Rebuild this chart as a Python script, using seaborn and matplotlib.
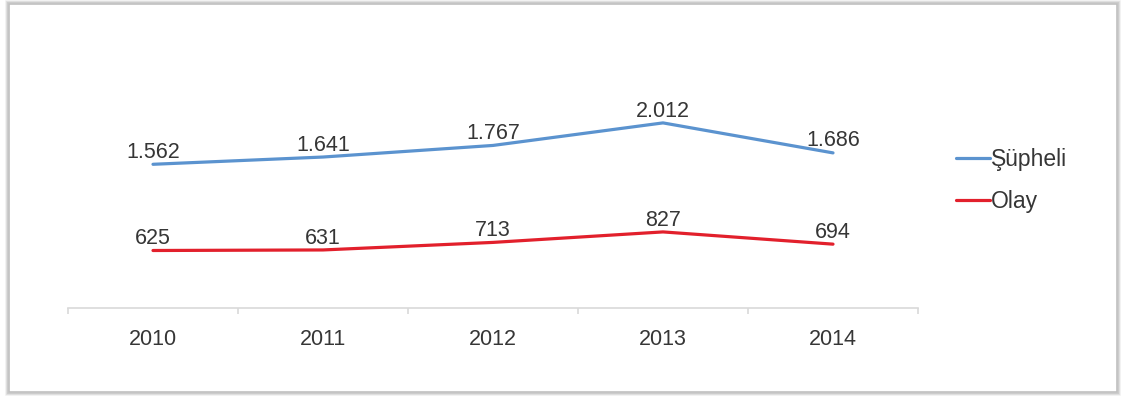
import matplotlib
matplotlib.use("Agg")
import matplotlib.pyplot as plt
from matplotlib.patches import Rectangle
from matplotlib.lines import Line2D
import seaborn as sns
import pandas as pd

# Yearly counts
years = ["2010", "2011", "2012", "2013", "2014"]
supheli = [1562, 1641, 1767, 2012, 1686]
olay = [625, 631, 713, 827, 694]
series_names = ["Şüpheli", "Olay"]
series_colors = ["#5b93cf", "#e2202c"]

df = pd.DataFrame({
    "Yıl": years * 2,
    "Sayı": supheli + olay,
    "Seri": [series_names[0]] * len(years) + [series_names[1]] * len(years),
})

sns.set_theme(style="white")
plt.rcParams["font.family"] = ["Liberation Sans", "DejaVu Sans"]

W, H = 1124, 398
fig = plt.figure(figsize=(W / 100, H / 100), dpi=100)
fig.patch.set_facecolor("white")

# Soft framed border around the chart area
x0, y0, x1, y1 = 9, 4, 1117, 392
for i, a in enumerate([0.10, 0.18, 0.30]):
    pad = 3 - i
    fig.patches.append(Rectangle(((x0 - pad) / W, 1 - (y1 + pad) / H),
                                 (x1 - x0 + 2 * pad) / W, (y1 - y0 + 2 * pad) / H,
                                 transform=fig.transFigure, facecolor="none",
                                 edgecolor=(0.45, 0.45, 0.45, a), lw=1.2,
                                 zorder=-2))
fig.patches.append(Rectangle((x0 / W, 1 - y1 / H), (x1 - x0) / W, (y1 - y0) / H,
                             transform=fig.transFigure, facecolor="white",
                             edgecolor="#c0c0c0", lw=1.2, zorder=-1))

ax_left, ax_right, ax_bottom, ax_top = 68, 918, 308, 78
ax = fig.add_axes([ax_left / W, 1 - ax_bottom / H,
                   (ax_right - ax_left) / W, (ax_bottom - ax_top) / H])
ax.set_zorder(1)
ax.patch.set_alpha(0)

sns.lineplot(data=df, x="Yıl", y="Sayı", hue="Seri",
             palette=dict(zip(series_names, series_colors)),
             linewidth=2.3, ax=ax, legend=False, sort=False)

ax.set_xlim(-0.5, len(years) - 0.5)
ax.set_ylim(0, 2500)

def fmt(v):
    return f"{v:,}".replace(",", ".")

for vals in (supheli, olay):
    for i, v in enumerate(vals):
        ax.annotate(fmt(v), (i, v), xytext=(0, 1), textcoords="offset points",
                    ha="center", va="bottom", fontsize=15.5, color="#363636")

for s in ("top", "right", "left"):
    ax.spines[s].set_visible(False)
ax.spines["bottom"].set_color("#d9d9d9")
ax.spines["bottom"].set_linewidth(1.2)
ax.set_yticks([])
ax.set_xlabel("")
ax.set_ylabel("")
ax.set_xticks(range(len(years)))
ax.set_xticklabels(years)
ax.set_xticks([i - 0.5 for i in range(len(years) + 1)], minor=True)
ax.tick_params(axis="x", which="major", length=0, pad=15, labelsize=15.5,
               labelcolor="#363636")
ax.tick_params(axis="x", which="minor", length=4, width=1.2, color="#d9d9d9",
               bottom=True)

handles = [Line2D([], [], color=c, lw=2.3) for c in series_colors]
fig.legend(handles, series_names, loc="upper left",
           bbox_to_anchor=(956 / W, 1 - 148 / H), frameon=False,
           borderpad=0, borderaxespad=0,
           fontsize=16.5, handlelength=1.48, handletextpad=0.05,
           labelspacing=0.82, labelcolor="#363636")

fig.savefig("out.png", dpi=100, facecolor="white")
